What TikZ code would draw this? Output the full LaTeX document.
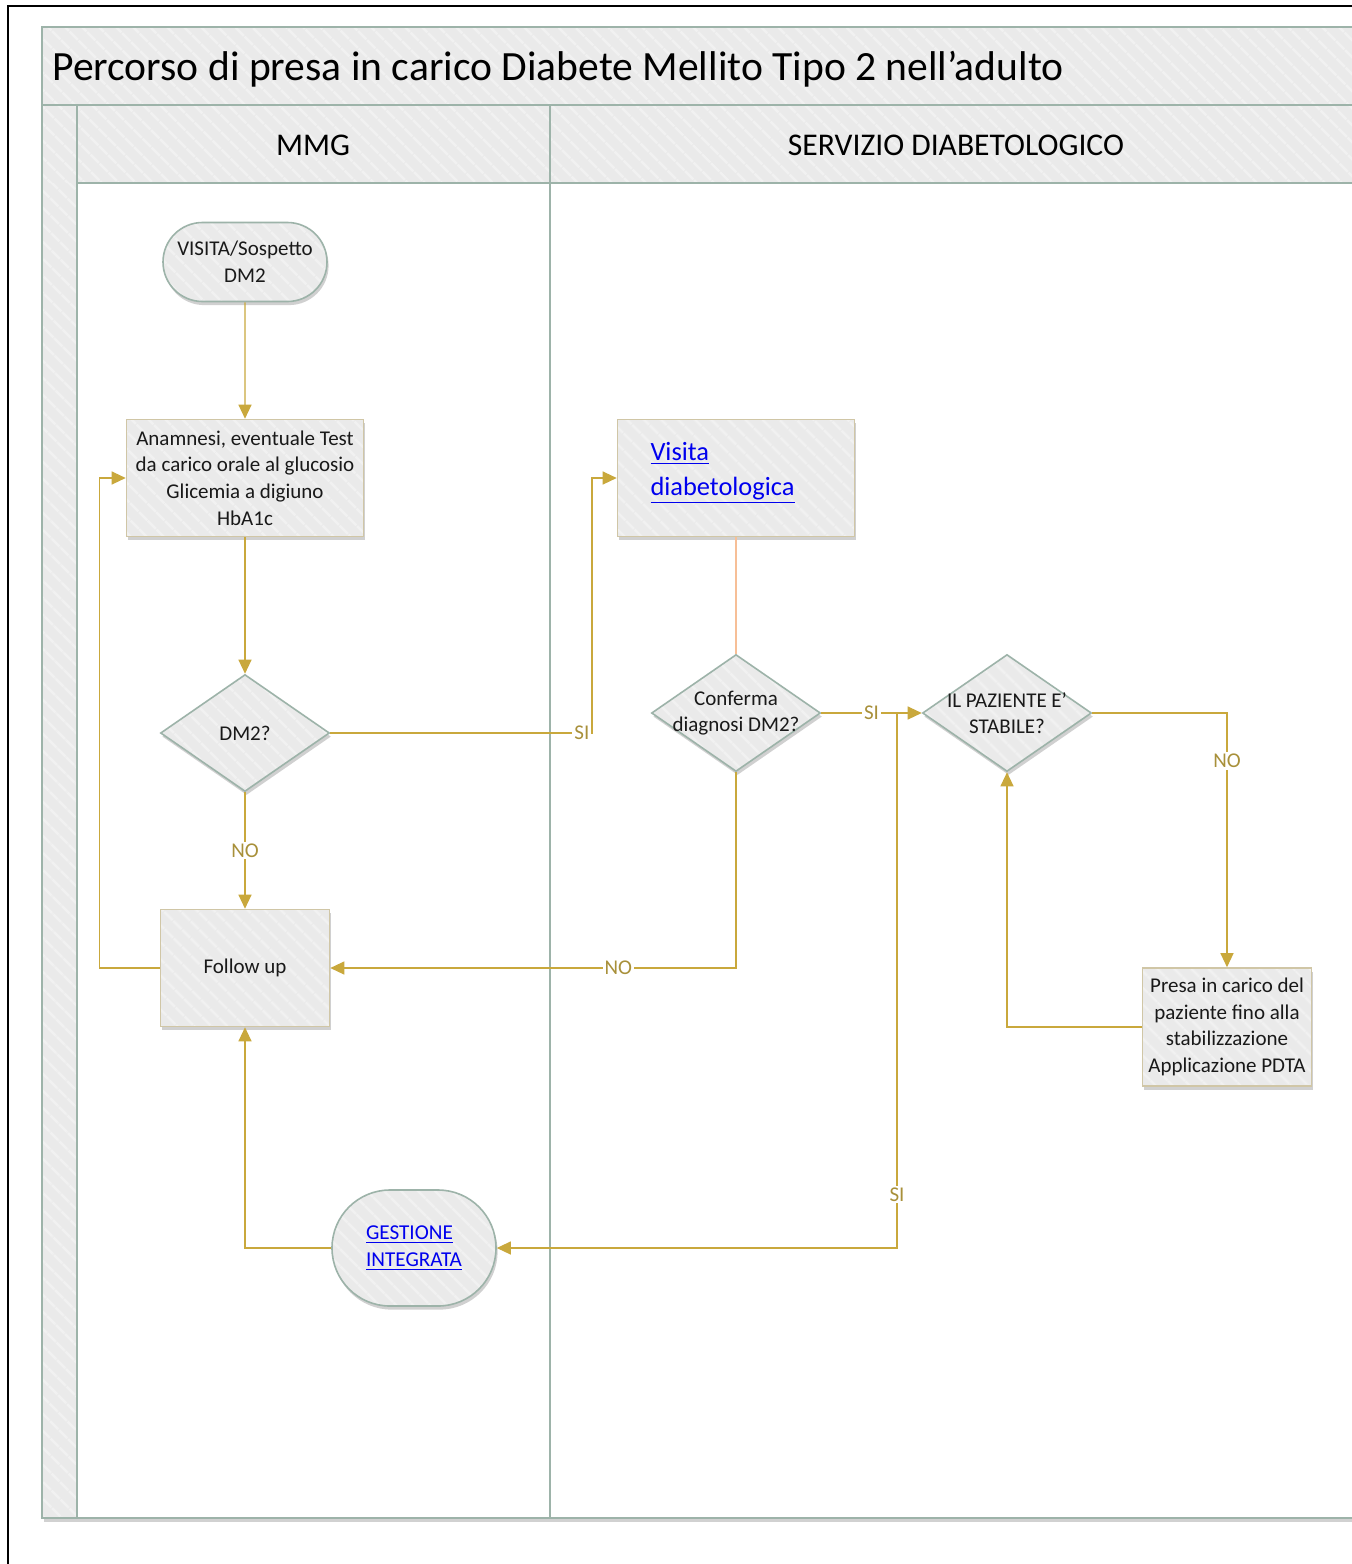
\documentclass[tikz,border=0pt]{standalone}
\usepackage{fontspec}
\setmainfont{Carlito}
\usetikzlibrary{shapes.geometric,shapes.misc,arrows.meta,shadows,patterns.meta}

\definecolor{lanefill}{HTML}{EAEAEA}
\definecolor{stripe}{HTML}{F1F1F1}
\definecolor{laneline}{HTML}{9DB3A9}
\definecolor{boxline}{HTML}{D0C6A6}
\definecolor{flow}{HTML}{C9A83C}
\definecolor{flowtext}{HTML}{A8903A}
\definecolor{peach}{HTML}{F7BF97}
\definecolor{linkblue}{HTML}{0000EE}

\newcommand{\weblink}[1]{\textcolor{linkblue}{\underline{#1}}}
\newcommand{\nowide}[1]{\makebox[0pt]{#1}}

\tikzset{
  hatch/.style={preaction={fill=lanefill},
    preaction={pattern={Lines[angle=-45,distance=6.5pt,line width=1.5pt]},pattern color=stripe}},
  shade below/.style={drop shadow={shadow xshift=0.8pt,shadow yshift=-1.8pt,opacity=.3,fill=black!60}},
  box/.style={shade below,hatch,line width=0.8pt,text=black!90,align=center,
    font=\fontsize{10.5}{13.3}\selectfont,inner sep=1pt},
  terminal/.style={box,rounded rectangle,draw=laneline,minimum width=84pt,minimum height=39.5pt},
  process/.style={box,rectangle,draw=boxline,minimum width=84.5pt,minimum height=58.5pt},
  decision/.style={box,diamond,draw=laneline,minimum width=84.5pt,minimum height=58.5pt,inner sep=0pt},
  flowarrow/.style={draw=flow,line width=0.6pt,-{Triangle[length=7pt,width=6.5pt]}},
  flowlabel/.style={fill=white,text=flowtext,inner sep=1pt,font=\fontsize{10.5}{12}\selectfont},
  laneedge/.style={draw=laneline,line width=1.3pt}
}

\begin{document}
\begin{tikzpicture}[x=0.5pt,y=-0.5pt]
\useasboundingbox (0,0) rectangle (1351,1564);

% frame:
\draw[line width=0.9pt] (8,1600) |- (1400,6);

% pool and lanes:
\draw[laneedge,fill=white,shade below] (42,27) rectangle (1362,1518);
\path[hatch] (42,27) rectangle (1362,183);
\path[hatch] (42,183) rectangle (77,1518);
\draw[laneedge] (42,27) rectangle (1362,1518);
\draw[laneedge] (42,105) -- (1362,105);
\draw[laneedge] (77,183) -- (1362,183);
\draw[laneedge] (77,105) -- (77,1518);
\draw[laneedge] (550,105) -- (550,1518);

\node[anchor=base west,inner sep=0pt,font=\fontsize{20.8}{24}\selectfont] (title) at (52,80)
  {Percorso di presa in carico Diabete Mellito Tipo 2 nell’adulto};
\node[anchor=base,font=\fontsize{15.8}{18}\selectfont] (mmg) at (313,155) {MMG};
\node[anchor=base,font=\fontsize{15.8}{18}\selectfont] (servizio) at (956,155) {SERVIZIO DIABETOLOGICO};

% MMG lane:
\node[terminal] (start) at (245,262) {VISITA/Sospetto\\DM2};
\node[process,minimum width=118.5pt] (anam) at (245,478)
  {Anamnesi, eventuale Test\\da carico orale al glucosio\\Glicemia a digiuno\\HbA1c};
\node[decision] (dm2) at (245,733) {DM2?};
\node[process] (follow) at (245,968) {Follow up};
\node[terminal,minimum height=58pt,align=left,font=\fontsize{10.6}{13.5}\selectfont] (gest) at (414,1248)
  {\weblink{GESTIONE}\\\weblink{INTEGRATA}};

% servizio lane:
\node[process,minimum width=118.5pt,text width=85.5pt,align=left,
  font=\fontsize{13.2}{17.5}\selectfont] (visita) at (736,478)
  {\weblink{Visita}\\\weblink{diabetologica}\\[-8pt]\mbox{}};
\node[decision] (conf) at (736,713) {\nowide{Conferma}\\\nowide{diagnosi DM2?}};
\node[decision] (stab) at (1007,713) {\nowide{IL PAZIENTE E’}\\\nowide{STABILE?}};
\node[process,minimum height=59pt] (presa) at (1227,1027)
  {Presa in carico del\\paziente fino alla\\stabilizzazione\\Applicazione PDTA};

\coordinate (bendsi) at (592,733);
\coordinate (split) at (897,713);

% connectors:
\draw[flowarrow] (start) -- (anam);
\draw[flowarrow] (anam) -- (dm2);
\draw[flowarrow] (dm2) -- node[flowlabel]{NO} (follow);
\draw[flowarrow] (dm2.east) -- node[flowlabel,pos=1,anchor=east]{SI} (bendsi) |- (visita.west);
\draw[peach,line width=0.6pt] (visita) -- (conf);
\draw[flowarrow] (conf.south) |- node[flowlabel,pos=0.645]{NO} (follow.east);
\draw[flowarrow] (conf.east) -- node[flowlabel]{SI} (stab.west);
\draw[flowarrow] (split) |- node[flowlabel,pos=0.45]{SI} (gest.east);
\draw[flowarrow] (stab.east) -| node[flowlabel,pos=0.594]{NO} (presa.north);
\draw[flowarrow] (presa.west) -| (stab.south);
\draw[flowarrow] (follow.west) -- ++(-60,0) |- (anam.west);
\draw[flowarrow] (gest.west) -| (follow.south);

\end{tikzpicture}
\end{document}
